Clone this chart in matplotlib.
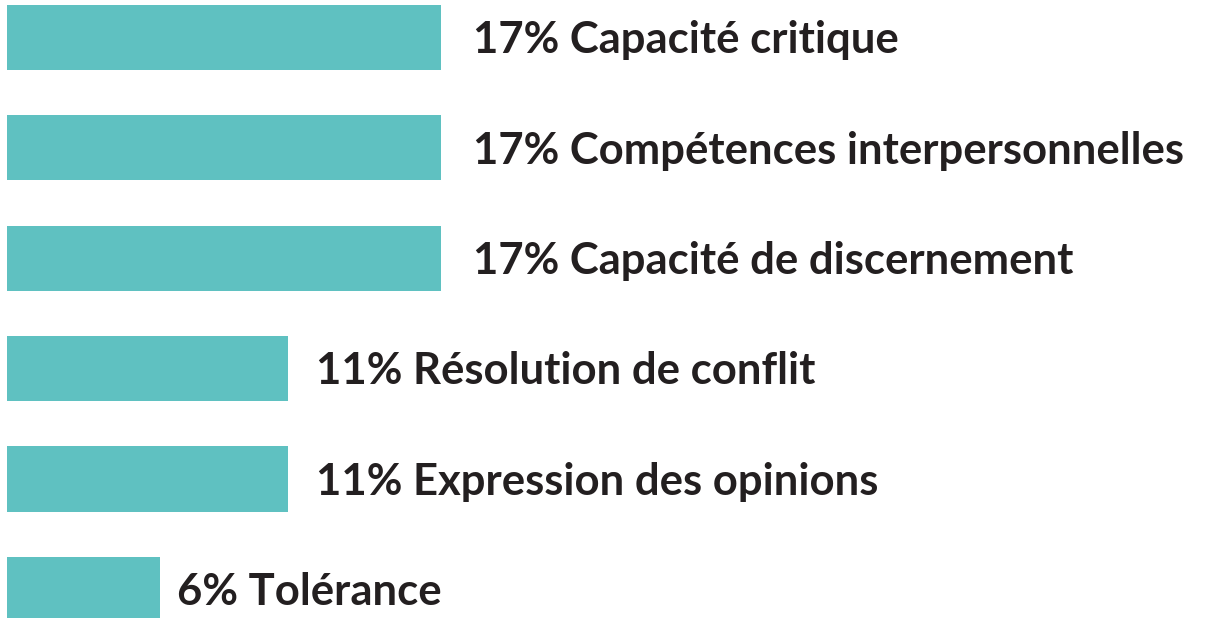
import matplotlib
matplotlib.use("Agg")
import matplotlib.pyplot as plt

categories = [
    "Capacité critique",
    "Compétences interpersonnelles",
    "Capacité de discernement",
    "Résolution de conflit",
    "Expression des opinions",
    "Tolérance",
]
values = [17, 17, 17, 11, 11, 6]

BAR_COLOR = "#5fc1c1"
TEXT_COLOR = "#231f20"


def main():
    plt.rcParams['font.family'] = ['Lato', 'DejaVu Sans']

    fig = plt.figure(figsize=(12.19, 6.18), dpi=100)
    ax = fig.add_axes([7 / 1219, 0, 1212 / 1219, 1])

    y = range(len(categories))
    ax.barh(y, values, height=0.59, color=BAR_COLOR, linewidth=0)

    # label gap after each bar (points), the short bar sits closer
    pads = [23, 23, 23, 20, 20, 12]
    for yi, v, cat, pad in zip(y, values, categories, pads):
        ax.annotate(f"{v}% {cat}", xy=(v, yi), xytext=(pad, -2),
                    textcoords='offset points', va='center', ha='left',
                    fontsize=31.4, fontweight='bold', color=TEXT_COLOR)

    px_per_unit = 434 / 17
    ax.set_xlim(0, 1212 / px_per_unit)
    ax.set_ylim(5.26, -0.34)
    ax.axis('off')

    fig.savefig("out.png", dpi=100, facecolor="white")


if __name__ == '__main__':
    main()
